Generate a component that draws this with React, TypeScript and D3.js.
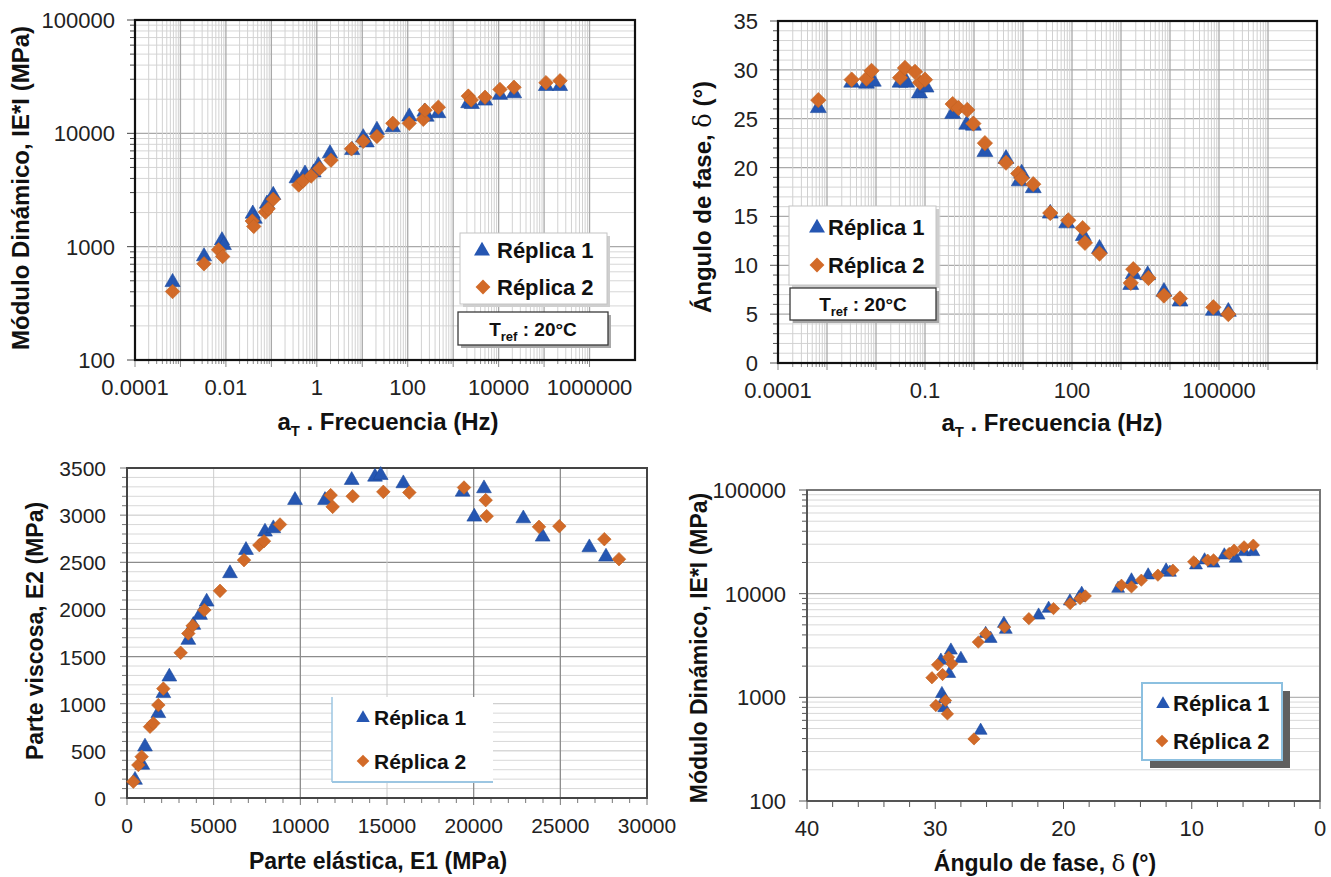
import React from 'react';
import * as d3 from 'd3';

type P = [number, number];

const BLUE = '#2556b2';
const ORANGE = '#d26a28';
const FONT = "'Liberation Sans', Arial, Helvetica, sans-serif";
const seriesNames = ['Réplica 1', 'Réplica 2'];

// Panel A: |E*| vs reduced frequency
const aRep1: P[] = [
  [0.00067, 486], [0.0033, 820], [0.0082, 1135], [0.009, 1030], [0.039, 1950], [0.043, 1760],
  [0.08, 2390], [0.11, 2850], [0.36, 4000], [0.55, 4400], [0.85, 4500], [1.08, 5200], [1.95, 6650],
  [6.0, 7100], [10.5, 9200], [12.5, 8300], [21, 10700], [47, 11300], [108, 14030], [234, 15500],
  [260, 14000], [471, 15030], [2150, 18400], [2570, 18100], [5020, 19400], [10700, 21800],
  [21800, 22500], [110000, 26100], [224000, 26100],
];
const aRep2: P[] = [
  [0.00067, 402], [0.0033, 706], [0.0069, 938], [0.0085, 819], [0.038, 1683], [0.041, 1510],
  [0.074, 2020], [0.085, 2162], [0.11, 2620], [0.4, 3500], [0.5, 3800], [0.75, 4200], [1.15, 4900],
  [2.05, 5800], [5.8, 7300], [10.5, 8500], [21, 9400], [47, 12250], [108, 12250], [220, 13300],
  [240, 16000], [471, 17000], [2150, 21300], [2500, 19700], [5020, 20800], [10700, 24400],
  [21800, 25500], [110000, 28000], [224000, 29100],
];
const aXTicks = [0.0001, 0.01, 1, 100, 10000, 1000000];
const aYTicks = [100, 1000, 10000, 100000];

// Panel B: phase angle vs reduced frequency
const bRep1: P[] = [
  [6.65e-4, 26.1], [3.19e-3, 28.7], [6.4e-3, 28.6], [8.8e-3, 28.8], [0.031, 28.7], [0.042, 28.7],
  [0.077, 27.6], [0.105, 28.2], [0.367, 25.5], [0.71, 24.4], [0.97, 24.3], [1.67, 21.6], [4.5, 20.9],
  [8.4, 18.6], [9.4, 19.4], [16.2, 17.9], [36, 15.3], [78, 14.3], [170, 13.0], [364, 11.7],
  [1580, 8.0], [1780, 9.1], [3500, 9.0], [7530, 7.3], [16000, 6.3], [76600, 5.35], [155000, 5.25],
];
const bRep2: P[] = [
  [6.65e-4, 26.9], [3.19e-3, 29.0], [6.4e-3, 29.1], [8.1e-3, 29.9], [0.031, 29.2], [0.039, 30.2],
  [0.0625, 29.8], [0.079, 28.7], [0.1, 29.0], [0.367, 26.5], [0.48, 26.1], [0.73, 25.9], [0.97, 24.5],
  [1.67, 22.5], [4.5, 20.5], [8.0, 19.4], [9.4, 18.9], [16.2, 18.3], [36, 15.35], [84, 14.6],
  [165, 13.8], [184, 12.3], [364, 11.2], [1580, 8.2], [1780, 9.6], [3630, 8.7], [7530, 6.9],
  [16000, 6.6], [76600, 5.7], [155000, 5.0],
];
const bXTicks = [0.0001, 0.1, 100, 100000];
const bYTicks = [0, 5, 10, 15, 20, 25, 30, 35];

// Panel C: Cole-Cole (E2 vs E1)
const cRep1: P[] = [
  [462, 191], [884, 350], [1038, 544], [1808, 898], [2096, 1110], [2442, 1286], [3538, 1675],
  [3827, 1834], [4212, 1940], [4596, 2081], [5942, 2382], [6865, 2629], [7961, 2823], [8442, 2859],
  [9692, 3159], [11423, 3159], [12962, 3371], [14308, 3406], [14635, 3424], [15943, 3336],
  [19365, 3247], [20596, 3283], [20036, 2982], [22865, 2964], [23980, 2770], [26673, 2657], [27634, 2558],
];
const cRep2: P[] = [
  [365, 173], [654, 350], [846, 438], [1327, 756], [1519, 792], [1808, 986], [2096, 1160],
  [3096, 1540], [3538, 1745], [3788, 1826], [4462, 1993], [5365, 2197], [6750, 2523], [7634, 2682],
  [7903, 2724], [8827, 2901], [11750, 3212], [11865, 3088], [13019, 3201], [14788, 3247],
  [16288, 3240], [19442, 3293], [20693, 3159], [20750, 2989], [23769, 2876], [24942, 2883],
  [27538, 2745], [28384, 2533],
];
const cXTicks = [0, 5000, 10000, 15000, 20000, 25000, 30000];
const cYTicks = [0, 500, 1000, 1500, 2000, 2500, 3000, 3500];

// Panel D: Black space (|E*| vs phase angle)
const dRep1: P[] = [
  [26.46, 478], [29.48, 1081], [29.3, 960], [29.3, 790], [29.56, 2270], [28.91, 1690], [28.78, 2840],
  [28.0, 2360], [26.07, 4110], [25.68, 3680], [24.65, 5140], [24.5, 4500], [21.94, 6180],
  [21.16, 7180], [19.5, 8450], [18.58, 10020], [18.8, 9100], [15.74, 11190], [14.7, 13490],
  [13.4, 15070], [12.0, 16830], [11.7, 16000], [9.67, 18830], [9.0, 21040], [8.3, 19600],
  [7.46, 23500], [6.57, 21880], [5.92, 25300], [5.2, 25300],
];
const dRep2: P[] = [
  [26.98, 397], [29.95, 834], [29.2, 931], [29.05, 692], [30.26, 1546], [29.82, 2060], [29.43, 1660],
  [28.96, 2440], [28.71, 2110], [26.64, 3410], [26.07, 4110], [24.6, 4760], [22.7, 5740],
  [20.78, 7180], [19.48, 8020], [18.71, 8970], [18.3, 9500], [15.48, 12050], [14.7, 11620],
  [13.93, 13490], [12.64, 15070], [11.47, 16830], [9.85, 20280], [8.76, 21040], [8.3, 21200],
  [7.08, 24430], [6.7, 26300], [5.92, 28310], [5.2, 29380],
];
const dXTicks = [40, 30, 20, 10, 0];
const dYTicks = [100, 1000, 10000, 100000];

// ---------- helpers ----------
const triD = (s: number) => d3.symbol().type(d3.symbolTriangle).size(s)() as string;
const sqD = (s: number) => d3.symbol().type(d3.symbolSquare).size(s)() as string;

function logValues(e0: number, e1: number) {
  const out: { v: number; major: boolean }[] = [];
  for (let e = e0; e < e1; e++) for (let m = 1; m < 10; m++) out.push({ v: m * Math.pow(10, e), major: m === 1 });
  out.push({ v: Math.pow(10, e1), major: true });
  return out;
}

function Markers({ data, x, y, kind, size }: { data: P[]; x: any; y: any; kind: 'tri' | 'dia'; size: number }) {
  const d = kind === 'tri' ? triD(size) : sqD(size);
  return (
    <g>
      {data.map((p, i) => (
        <path
          key={i}
          d={d}
          fill={kind === 'tri' ? BLUE : ORANGE}
          stroke={kind === 'tri' ? '#1d4a9c' : '#c0601f'}
          strokeWidth={0.6}
          transform={`translate(${x(p[0])},${y(p[1])})${kind === 'tri' ? '' : ' rotate(45)'}`}
        />
      ))}
    </g>
  );
}

function LegendMarker({ kind, cx, cy, size }: { kind: 'tri' | 'dia'; cx: number; cy: number; size: number }) {
  return (
    <path
      d={kind === 'tri' ? triD(size) : sqD(size)}
      fill={kind === 'tri' ? BLUE : ORANGE}
      transform={`translate(${cx},${cy})${kind === 'tri' ? '' : ' rotate(45)'}`}
    />
  );
}

function AtTitle({ x, y, size }: { x: number; y: number; size: number }) {
  return (
    <text x={x} y={y} textAnchor="middle" fontSize={size} fontWeight="bold" fill="#111">
      <tspan>a</tspan>
      <tspan dy={6} fontSize={size * 0.62}>T</tspan>
      <tspan dy={-6}> . Frecuencia (Hz)</tspan>
    </text>
  );
}

function DeltaTitle({ x, y, size, rotate }: { x: number; y: number; size: number; rotate: boolean }) {
  return (
    <text
      x={rotate ? 0 : x}
      y={rotate ? 0 : y}
      transform={rotate ? `translate(${x},${y}) rotate(-90)` : undefined}
      textAnchor="middle"
      fontSize={size}
      fontWeight="bold"
      fill="#111"
    >
      <tspan>Ángulo de fase, </tspan>
      <tspan fontFamily="'DejaVu Serif', 'Liberation Serif', serif" fontWeight="normal">δ</tspan>
      <tspan> (°)</tspan>
    </text>
  );
}

function Tref({ x, y, w, h }: { x: number; y: number; w: number; h: number }) {
  return (
    <g>
      <rect x={x + 3} y={y + 3} width={w} height={h} fill="#a8a8a8" />
      <rect x={x} y={y} width={w} height={h} fill="#fff" stroke="#3a3a3a" strokeWidth={1.3} />
      <text x={x + w / 2} y={y + h - 9} textAnchor="middle" fontSize={19} fontWeight="bold" fill="#111">
        <tspan>T</tspan>
        <tspan dy={5} fontSize={13}>ref</tspan>
        <tspan dy={-5}> : 20°C</tspan>
      </text>
    </g>
  );
}

// ---------- Panel A ----------
function PanelA() {
  const L = 135, R = 635, T = 20, B = 360;
  const x = d3.scaleLog().domain([1e-4, 1e7]).range([L, R]);
  const y = d3.scaleLog().domain([100, 1e5]).range([B, T]);
  const xg = logValues(-4, 6);
  const yg = logValues(2, 5);
  return (
    <g>
      {yg.map((g, i) => (
        <line key={'h' + i} x1={L} x2={R} y1={y(g.v)} y2={y(g.v)} stroke={g.major ? '#a9a9a9' : '#d6d6d6'} strokeWidth={g.major ? 1.3 : 1} />
      ))}
      {xg.map((g, i) => (
        <line key={'v' + i} x1={x(g.v)} x2={x(g.v)} y1={T} y2={B} stroke={g.major ? '#a9a9a9' : '#d2d2d2'} strokeWidth={g.major ? 1.3 : 1} />
      ))}
      {yg.map((g, i) => (
        <line key={'yt' + i} x1={L - (g.major ? 8 : 5)} x2={L} y1={y(g.v)} y2={y(g.v)} stroke="#444" />
      ))}
      {xg.map((g, i) => (
        <line key={'xt' + i} x1={x(g.v)} x2={x(g.v)} y1={B} y2={B + (g.major ? 7 : 4)} stroke="#888" />
      ))}
      <rect x={L} y={T} width={R - L} height={B - T} fill="none" stroke="#111" strokeWidth={2.2} />
      <Markers data={aRep1} x={x} y={y} kind="tri" size={100} />
      <Markers data={aRep2} x={x} y={y} kind="dia" size={105} />
      {aYTicks.map((t) => (
        <text key={t} x={L - 20} y={y(t) + 8} textAnchor="end" fontSize={22} fill="#222">{String(t)}</text>
      ))}
      {aXTicks.map((t) => (
        <text key={t} x={x(t)} y={395} textAnchor="middle" fontSize={22} fill="#222">{String(t)}</text>
      ))}
      <AtTitle x={388} y={430} size={24} />
      <text transform="translate(29,188) rotate(-90)" textAnchor="middle" fontSize={24} fontWeight="bold" fill="#111">
        Módulo Dinámico, IE*I (MPa)
      </text>
      {/* legend */}
      <rect x={463} y={236} width={147} height={71} fill="#cfcfcf" />
      <rect x={460} y={233} width={147} height={71} fill="#fff" stroke="#c4c4c4" />
      <LegendMarker kind="tri" cx={482} cy={251} size={110} />
      <LegendMarker kind="dia" cx={483} cy={287} size={110} />
      <text x={497} y={258} fontSize={22} fontWeight="bold" fill="#111">{seriesNames[0]}</text>
      <text x={497} y={295} fontSize={22} fontWeight="bold" fill="#111">{seriesNames[1]}</text>
      <Tref x={458} y={312} w={150} h={33} />
    </g>
  );
}

// ---------- Panel B ----------
function PanelB() {
  const L = 778, R = 1317, T = 21, B = 363;
  const x = d3.scaleLog().domain([1e-4, 1e7]).range([L, R]);
  const y = d3.scaleLinear().domain([0, 35]).range([B, T]);
  const xg = logValues(-4, 6);
  const yg = d3.range(0, 36, 1);
  return (
    <g>
      {yg.map((v) => (
        <line key={'h' + v} x1={L} x2={R} y1={y(v)} y2={y(v)} stroke={v % 5 === 0 ? '#aaaaaa' : '#d4d4d4'} strokeWidth={v % 5 === 0 ? 1.3 : 1} />
      ))}
      {xg.map((g, i) => (
        <line key={'v' + i} x1={x(g.v)} x2={x(g.v)} y1={T} y2={B} stroke={g.major ? '#a9a9a9' : '#d0d0d0'} strokeWidth={g.major ? 1.3 : 1} />
      ))}
      {yg.map((v) => (
        <line key={'yt' + v} x1={L - (v % 5 === 0 ? 8 : 5)} x2={L} y1={y(v)} y2={y(v)} stroke="#555" />
      ))}
      {xg.map((g, i) => (
        <line key={'xt' + i} x1={x(g.v)} x2={x(g.v)} y1={B} y2={B + (g.major ? 7 : 4)} stroke="#888" />
      ))}
      <line x1={R} x2={R} y1={B} y2={B + 7} stroke="#888" />
      <rect x={L} y={T} width={R - L} height={B - T} fill="none" stroke="#111" strokeWidth={2.2} />
      <Markers data={bRep1} x={x} y={y} kind="tri" size={110} />
      <Markers data={bRep2} x={x} y={y} kind="dia" size={118} />
      {bYTicks.map((t) => (
        <text key={t} x={L - 20} y={y(t) + 8} textAnchor="end" fontSize={22} fill="#222">{String(t)}</text>
      ))}
      {bXTicks.map((t) => (
        <text key={t} x={x(t)} y={398} textAnchor="middle" fontSize={22} fill="#222">{String(t)}</text>
      ))}
      <AtTitle x={1052} y={431} size={24} />
      <DeltaTitle x={711} y={197} size={24} rotate={true} />
      {/* legend */}
      <rect x={792} y={209} width={147} height={79} fill="#cfcfcf" />
      <rect x={789} y={206} width={147} height={79} fill="#fff" stroke="#c4c4c4" />
      <LegendMarker kind="tri" cx={817} cy={228} size={110} />
      <LegendMarker kind="dia" cx={817} cy={265} size={110} />
      <text x={828} y={235} fontSize={22} fontWeight="bold" fill="#111">{seriesNames[0]}</text>
      <text x={828} y={273} fontSize={22} fontWeight="bold" fill="#111">{seriesNames[1]}</text>
      <Tref x={790} y={288} w={146} h={32} />
    </g>
  );
}

// ---------- Panel C ----------
function PanelC() {
  const L = 127, R = 647, T = 468, B = 798;
  const x = d3.scaleLinear().domain([0, 30000]).range([L, R]);
  const y = d3.scaleLinear().domain([0, 3500]).range([B, T]);
  const yMinor = d3.range(100, 3500, 100);
  const xMinor = d3.range(0, 30001, 1000);
  const darkV = [10000, 20000, 25000];
  const darkH = [1500, 2500];
  return (
    <g>
      {yMinor.map((v) => (
        <line key={'h' + v} x1={L} x2={R} y1={y(v)} y2={y(v)}
          stroke={darkH.includes(v) ? '#8c8c8c' : v % 500 === 0 ? '#c4c4c4' : '#d8d8d8'}
          strokeWidth={darkH.includes(v) ? 1.3 : 1} />
      ))}
      {cXTicks.slice(1, -1).map((v) => (
        <line key={'v' + v} x1={x(v)} x2={x(v)} y1={T} y2={B}
          stroke={darkV.includes(v) ? '#8c8c8c' : '#cccccc'} strokeWidth={darkV.includes(v) ? 1.3 : 1} />
      ))}
      {d3.range(0, 3501, 100).map((v) => (
        <line key={'yt' + v} x1={L - (v % 500 === 0 ? 7 : 5)} x2={L} y1={y(v)} y2={y(v)} stroke="#777" />
      ))}
      {xMinor.map((v) => (
        <line key={'xt' + v} x1={x(v)} x2={x(v)} y1={B} y2={B + (v % 5000 === 0 ? 7 : 5)} stroke="#777" />
      ))}
      <rect x={L} y={T} width={R - L} height={B - T} fill="none" stroke="#444" strokeWidth={2} />
      <rect x={332} y={697} width={161} height={85} fill="#fff" />
      <line x1={332} x2={332} y1={697} y2={782} stroke="#9cc6e2" strokeWidth={1.5} />
      <line x1={332} x2={493} y1={782} y2={782} stroke="#9cc6e2" strokeWidth={2} />
      <Markers data={cRep1} x={x} y={y} kind="tri" size={95} />
      <Markers data={cRep2} x={x} y={y} kind="dia" size={92} />
      <LegendMarker kind="tri" cx={363} cy={718} size={80} />
      <LegendMarker kind="dia" cx={363} cy={761} size={80} />
      <text x={374} y={725} fontSize={21} fontWeight="bold" fill="#111">{seriesNames[0]}</text>
      <text x={374} y={769} fontSize={21} fontWeight="bold" fill="#111">{seriesNames[1]}</text>
      {cYTicks.map((t) => (
        <text key={t} x={L - 21} y={y(t) + 8} textAnchor="end" fontSize={21} fill="#222">{String(t)}</text>
      ))}
      {cXTicks.map((t) => (
        <text key={t} x={x(t)} y={833} textAnchor="middle" fontSize={21} fill="#222">{String(t)}</text>
      ))}
      <text x={378} y={869} textAnchor="middle" fontSize={23} fontWeight="bold" fill="#111">Parte elástica, E1 (MPa)</text>
      <text transform="translate(43,631) rotate(-90)" textAnchor="middle" fontSize={23} fontWeight="bold" fill="#111">
        Parte viscosa, E2 (MPa)
      </text>
    </g>
  );
}

// ---------- Panel D ----------
function PanelD() {
  const L = 807, R = 1320, T = 490, B = 801;
  const x = d3.scaleLinear().domain([40, 0]).range([L, R]);
  const y = d3.scaleLog().domain([100, 1e5]).range([B, T]);
  const yg = logValues(2, 5);
  return (
    <g>
      {yg.map((g, i) => (
        <line key={'h' + i} x1={L} x2={R} y1={y(g.v)} y2={y(g.v)} stroke={g.major ? '#b5b5b5' : '#d8d8d8'} strokeWidth={g.major ? 1.3 : 1} />
      ))}
      {yg.map((g, i) => (
        <line key={'yt' + i} x1={L - (g.major ? 8 : 5)} x2={L} y1={y(g.v)} y2={y(g.v)} stroke="#555" />
      ))}
      {d3.range(0, 41, 2).map((v) => (
        <line key={'xt' + v} x1={x(v)} x2={x(v)} y1={B} y2={B + (v % 10 === 0 ? 8 : 6)} stroke="#555" />
      ))}
      <rect x={L} y={T} width={R - L} height={B - T} fill="none" stroke="#777" strokeWidth={2} />
      <line x1={L} x2={L} y1={T} y2={B} stroke="#555" strokeWidth={2} />
      <line x1={L} x2={R} y1={B} y2={B} stroke="#555" strokeWidth={2} />
      <Markers data={dRep1} x={x} y={y} kind="tri" size={72} />
      <Markers data={dRep2} x={x} y={y} kind="dia" size={76} />
      {dYTicks.map((t) => (
        <text key={t} x={L - 21} y={y(t) + 8} textAnchor="end" fontSize={22} fill="#222">{String(t)}</text>
      ))}
      {dXTicks.map((t) => (
        <text key={t} x={x(t)} y={836} textAnchor="middle" fontSize={22} fill="#222">{String(t)}</text>
      ))}
      <DeltaTitle x={1045} y={871} size={23} rotate={false} />
      <text transform="translate(707,648) rotate(-90)" textAnchor="middle" fontSize={23} fontWeight="bold" fill="#111">
        Módulo Dinámico, IE*I (MPa)
      </text>
      <rect x={1150} y={691} width={140} height={77} fill="#5f5f5f" />
      <rect x={1142} y={683} width={140} height={77} fill="#fff" stroke="#8cc0e0" strokeWidth={2} />
      <LegendMarker kind="tri" cx={1163} cy={704} size={80} />
      <LegendMarker kind="dia" cx={1162} cy={741} size={80} />
      <text x={1173} y={711} fontSize={22} fontWeight="bold" fill="#111">{seriesNames[0]}</text>
      <text x={1173} y={749} fontSize={22} fontWeight="bold" fill="#111">{seriesNames[1]}</text>
    </g>
  );
}

export default function App() {
  return (
    <svg
      width={1331}
      height={877}
      style={{ position: 'absolute', left: 0, top: 0, background: '#fff' }}
      fontFamily={FONT}
    >
      <rect x={0} y={0} width={1331} height={877} fill="#fff" />
      <PanelA />
      <PanelB />
      <PanelC />
      <PanelD />
    </svg>
  );
}
